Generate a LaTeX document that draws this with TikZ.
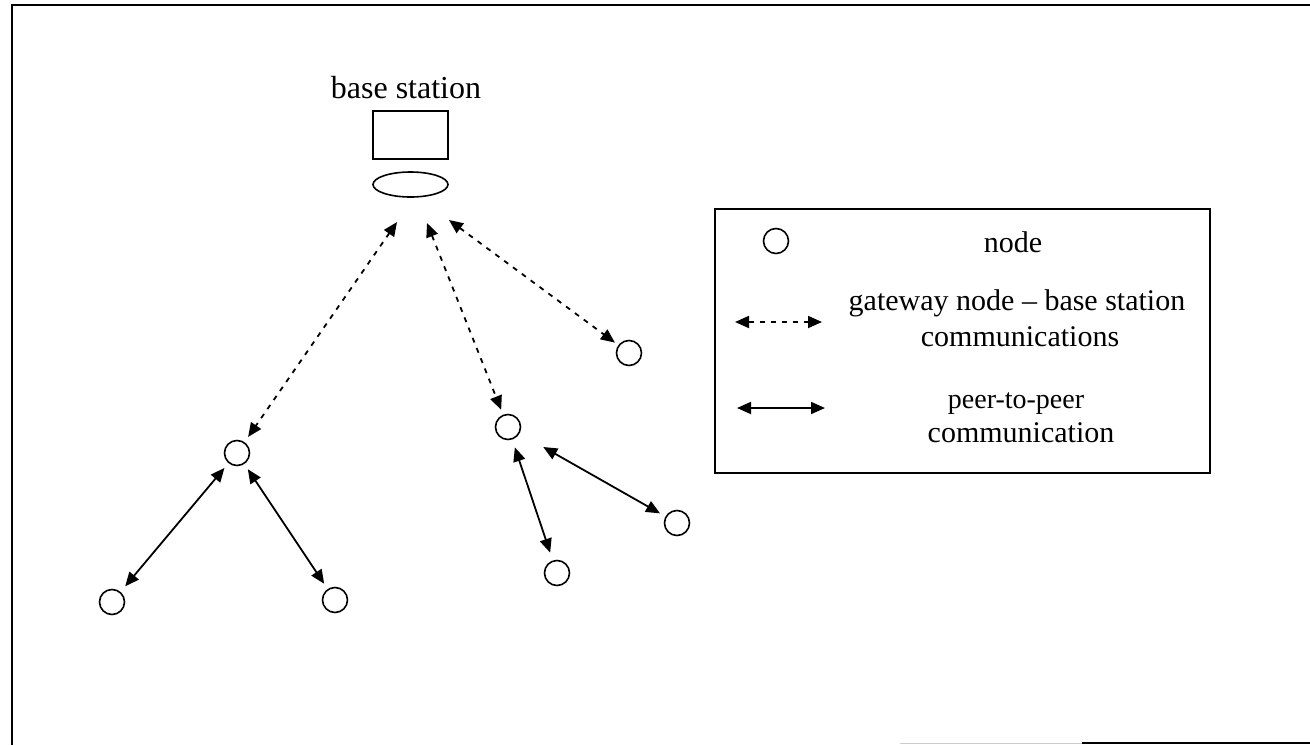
\documentclass[tikz,border=0pt]{standalone}
\usepackage{fontspec}
\setmainfont{Liberation Serif}
\usetikzlibrary{arrows.meta,shapes.geometric}

\begin{document}
\begin{tikzpicture}[x=1pt,y=-1pt,
  sensor/.style={circle,draw,line width=1.6pt,minimum size=25pt,inner sep=0pt,outer sep=0pt},
  p2p/.style={{Triangle[length=14pt,width=12pt]}-{Triangle[length=14pt,width=12pt]},line width=1.8pt},
  gw/.style={p2p,dash pattern=on 5pt off 6pt},
  lbl/.style={font=\fontsize{30}{34}\selectfont,anchor=base,inner sep=0pt},
  frame/.style={line width=2.5pt}]
\useasboundingbox (0,0) rectangle (1310,745);

% outer frame
\draw[frame] (1310,5) -- (12,5) -- (12,745);
\draw[frame] (1082,743) -- (1310,743);
\draw[gray!40,line width=1pt] (900,743) -- (1082,743);

% base station
\node[lbl,font=\fontsize{32}{36}\selectfont] (bslabel) at (406,98) {base station};
\node[draw,line width=1.6pt,minimum width=75pt,minimum height=48pt,inner sep=0pt] (bsbox) at (410.5,135) {};
\node[draw,ellipse,line width=1.6pt,minimum width=75pt,minimum height=25pt,inner sep=0pt] (bsant) at (410.5,184.5) {};
\coordinate (bs1) at (397,222);
\coordinate (bs2) at (427,223);
\coordinate (bs3) at (449,220);

% sensor nodes
\node[sensor] (A) at (237,453) {};
\node[sensor] (B) at (112,602) {};
\node[sensor] (C) at (335,600) {};
\node[sensor] (D) at (508,427) {};
\node[sensor] (E) at (557,573) {};
\node[sensor] (F) at (677,523) {};
\node[sensor] (G) at (629,353) {};

% gateway node -- base station links
\draw[gw,shorten >=7pt] (bs1) -- (A);
\draw[gw,shorten >=6pt] (bs2) -- (D);
\draw[gw,shorten >=5pt] (bs3) -- (G);

% peer-to-peer links
\draw[p2p,shorten <=7pt,shorten >=8pt] (A) -- (B);
\draw[p2p,shorten <=7pt,shorten >=7pt] (A) -- (C);
\draw[p2p,shorten <=9pt,shorten >=9pt] (D) -- (E);
\draw[p2p,shorten <=28pt,shorten >=7pt] (D) -- (F);

% legend
\node[draw,line width=1.4pt,minimum width=495pt,minimum height=264pt,inner sep=0pt] (legend) at (962.5,341) {};
\node[sensor] (lnode) at (776,241) {};
\node[lbl] (lnodetxt) at (1013,252) {node};
\coordinate (ld1) at (735,322);
\coordinate (ld2) at (822,322);
\draw[gw] (ld1) -- (ld2);
\node[lbl] (lgw1) at (1017,310) {gateway node -- base station};
\node[lbl] (lgw2) at (1020,346) {communications};
\coordinate (lp1) at (737,408);
\coordinate (lp2) at (825,408);
\draw[p2p] (lp1) -- (lp2);
\node[lbl,font=\fontsize{28}{32}\selectfont] (lp2p1) at (1016,408) {peer-to-peer};
\node[lbl] (lp2p2) at (1021,442) {communication};
\end{tikzpicture}
\end{document}
